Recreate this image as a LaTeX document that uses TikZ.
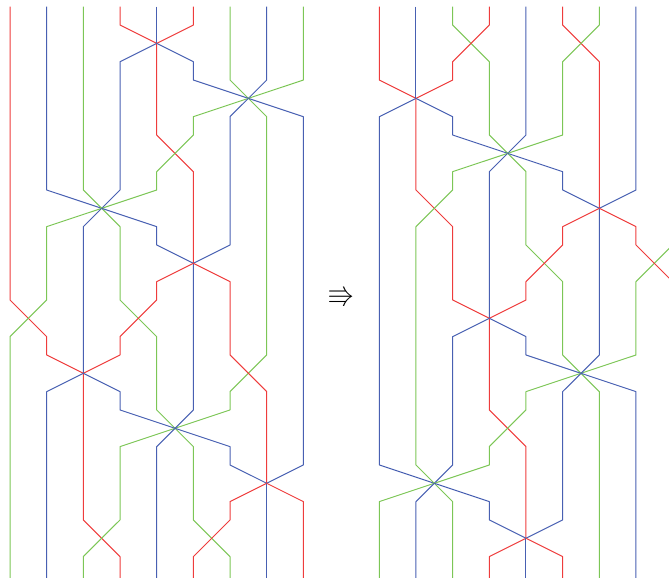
\documentclass[tikz,border=0pt]{standalone}
\usepackage{amssymb}
\definecolor{cR}{RGB}{238,60,60}
\definecolor{cB}{RGB}{72,96,178}
\definecolor{cG}{RGB}{124,198,86}
\tikzset{strand/.style={line width=1pt,line join=round}}
\def\B{31.2}
\begin{document}
\begin{tikzpicture}[x=1pt,y=1pt]
\useasboundingbox (0,0) rectangle (669,-578);
% ---------------- left diagram ----------------
\begin{scope}[shift={(10pt,-6.7pt)},x=36.67pt,y=-18.33pt,every path/.style={strand}]
\coordinate (La) at (4,2);
\coordinate (Lb) at (6.5,5);
\coordinate (Lc) at (2.5,11);
\coordinate (Ld) at (5,14);
\coordinate (Le) at (2,20);
\coordinate (Lf) at (4.5,23);
\coordinate (Lg) at (7,26);
\draw[cR] (0,0) -- (0,16) -- (1,18) -- (1,19) -- (Le);
\draw[cB] (1,0) -- (1,10) -- (Lc);
\draw[cG] (2,0) -- (2,10) -- (Lc);
\draw[cR] (3,0) -- (3,1) -- (La);
\draw[cB] (4,0) -- (La);
\draw[cR] (5,0) -- (5,1) -- (La);
\draw[cG] (6,0) -- (6,4) -- (Lb);
\draw[cB] (7,0) -- (7,4) -- (Lb);
\draw[cG] (8,0) -- (8,4) -- (Lb);
\draw[cB] (La) -- (3,3) -- (3,10) -- (Lc);
\draw[cR] (La) -- (4,7) -- (5,9) -- (Ld);
\draw[cB] (La) -- (5,3) -- (5,4) -- (Lb);
\draw[cG] (Lb) -- (5,6) -- (5,7) -- (4,9) -- (4,10) -- (Lc);
\draw[cB] (Lb) -- (6,6) -- (6,13) -- (Ld);
\draw[cG] (Lb) -- (7,6) -- (7,19) -- (6,21) -- (6,22) -- (Lf);
\draw[cB] (Lb) -- (8,6) -- (8,25) -- (Lg);
\draw[cG] (Lc) -- (1,12) -- (1,16) -- (0,18) -- (0,\B);
\draw[cB] (Lc) -- (2,12) -- (Le);
\draw[cG] (Lc) -- (3,12) -- (3,16) -- (4,18) -- (4,22) -- (Lf);
\draw[cB] (Lc) -- (4,12) -- (4,13) -- (Ld);
\draw[cR] (Ld) -- (4,15) -- (4,16) -- (3,18) -- (3,19) -- (Le);
\draw[cB] (Ld) -- (5,22) -- (Lf);
\draw[cR] (Ld) -- (6,15) -- (6,19) -- (7,21) -- (Lg);
\draw[cB] (Le) -- (1,21) -- (1,\B);
\draw[cR] (Le) -- (2,28) -- (3,30) -- (3,\B);
\draw[cB] (Le) -- (3,21) -- (3,22) -- (Lf);
\draw[cG] (Lf) -- (3,24) -- (3,28) -- (2,30) -- (2,\B);
\draw[cB] (Lf) -- (4,24) -- (4,\B);
\draw[cG] (Lf) -- (5,24) -- (5,28) -- (6,30) -- (6,\B);
\draw[cB] (Lf) -- (6,24) -- (6,25) -- (Lg);
\draw[cR] (Lg) -- (6,27) -- (6,28) -- (5,30) -- (5,\B);
\draw[cB] (Lg) -- (7,\B);
\draw[cR] (Lg) -- (8,27) -- (8,\B);
\end{scope}
% ---------------- arrow ----------------
\node[inner sep=0pt,font=\fontsize{27}{27}\selectfont] (arrow) at (341,-297) {$\Rrightarrow$};
% ---------------- right diagram ----------------
\begin{scope}[shift={(379.3pt,-6.7pt)},x=36.67pt,y=-18.33pt,every path/.style={strand}]
\coordinate (Ra) at (1,5);
\coordinate (Rb) at (3.5,8);
\coordinate (Rc) at (6,11);
\coordinate (Rd) at (3,17);
\coordinate (Re) at (5.5,20);
\coordinate (Rf) at (1.5,26);
\coordinate (Rg) at (4,29);
\draw[cR] (0,0) -- (0,4) -- (Ra);
\draw[cB] (1,0) -- (Ra);
\draw[cG] (2,0) -- (2,1) -- (3,3) -- (3,7) -- (Rb);
\draw[cR] (3,0) -- (3,1) -- (2,3) -- (2,4) -- (Ra);
\draw[cB] (4,0) -- (4,7) -- (Rb);
\draw[cR] (5,0) -- (5,1) -- (6,3) -- (Rc);
\draw[cG] (6,0) -- (6,1) -- (5,3) -- (5,7) -- (Rb);
\draw[cB] (7,0) -- (7,10) -- (Rc);
\draw[cG] (8,0) -- (8,13) -- (7,15) -- (7,19) -- (Re);
\draw[cB] (Ra) -- (0,6) -- (0,25) -- (Rf);
\draw[cR] (Ra) -- (1,10) -- (2,12) -- (2,16) -- (Rd);
\draw[cB] (Ra) -- (2,6) -- (2,7) -- (Rb);
\draw[cG] (Rb) -- (2,9) -- (2,10) -- (1,12) -- (1,25) -- (Rf);
\draw[cB] (Rb) -- (3,9) -- (Rd);
\draw[cG] (Rb) -- (4,9) -- (4,13) -- (5,15) -- (5,19) -- (Re);
\draw[cB] (Rb) -- (5,9) -- (5,10) -- (Rc);
\draw[cR] (Rc) -- (5,12) -- (5,13) -- (4,15) -- (4,16) -- (Rd);
\draw[cB] (Rc) -- (6,19) -- (Re);
\draw[cR] (Rc) -- (7,12) -- (7,13) -- (8,15) -- (8,\B);
\draw[cB] (Rd) -- (2,18) -- (2,25) -- (Rf);
\draw[cR] (Rd) -- (3,22) -- (4,24) -- (Rg);
\draw[cB] (Rd) -- (4,18) -- (4,19) -- (Re);
\draw[cG] (Re) -- (4,21) -- (4,22) -- (3,24) -- (3,25) -- (Rf);
\draw[cB] (Re) -- (5,21) -- (5,28) -- (Rg);
\draw[cG] (Re) -- (6,21) -- (6,\B);
\draw[cB] (Re) -- (7,21) -- (7,\B);
\draw[cG] (Rf) -- (0,27) -- (0,\B);
\draw[cB] (Rf) -- (1,27) -- (1,\B);
\draw[cG] (Rf) -- (2,27) -- (2,\B);
\draw[cB] (Rf) -- (3,27) -- (3,28) -- (Rg);
\draw[cR] (Rg) -- (3,30) -- (3,\B);
\draw[cB] (Rg) -- (4,\B);
\draw[cR] (Rg) -- (5,30) -- (5,\B);
\end{scope}
\end{tikzpicture}
\end{document}
